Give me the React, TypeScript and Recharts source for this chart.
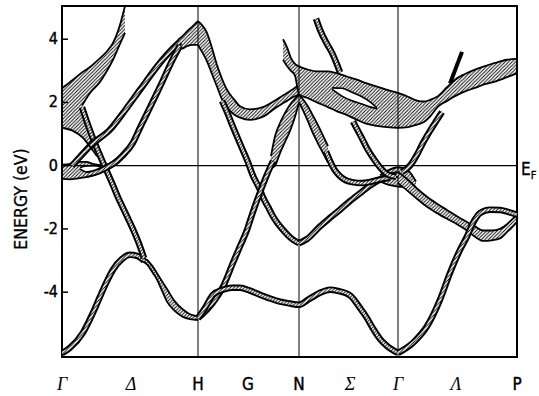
import React from 'react';
import { ComposedChart, Area, Line, XAxis, YAxis, ReferenceLine, ReferenceArea } from 'recharts';

// k-path positions (px-like units, Γ=0 ... P=455) and labels
const XTICKS = [0, 69, 136, 186, 237, 288, 336, 394, 455];
const XLABELS = ['Γ', 'Δ', 'H', 'G', 'N', 'Σ', 'Γ', 'Λ', 'P'];
const YTICKS = [-4, -2, 0, 2, 4];

// hatched ribbons: [k, lower eV, upper eV]
const BAND_A = [[20, 1.9, 2.95], [28, 2.3, 3.12], [38, 2.65, 3.4], [45, 3.0, 3.62], [51, 3.35, 3.88], [57, 3.78, 4.35], [63, 4.2, 5.05]];
const BAND_W1 = [[80, -3.02, -2.92], [85, -3.12, -2.98], [91, -3.4, -3.2], [95, -3.6, -3.4], [100, -3.95, -3.65], [105, -4.3, -3.9], [113, -4.6, -4.3], [121, -4.78, -4.55], [128, -4.85, -4.7], [136, -4.88, -4.76]];
const BAND_W2 = [[116, 3.72, 3.98], [120, 3.7, 4.08], [125, 3.78, 4.25], [131, 3.82, 4.42], [136, 3.82, 4.57]];
const BLOB_G0 = [[0, -0.42, 0.03], [8, -0.43, 0.06], [16, -0.4, 0.12], [24, -0.36, 0.12], [32, -0.3, 0.05], [40, -0.2, 0.02], [46, -0.08, 0.04]];
const BAND_HN = [[136, 3.82, 4.57], [140, 3.6, 4.45], [145, 3.3, 4.2], [150, 2.9, 3.72], [155, 2.5, 3.18], [160, 2.1, 2.75], [165, 1.85, 2.4], [172, 1.62, 2.1], [178, 1.52, 1.88], [188, 1.45, 1.78], [201, 1.55, 1.85], [215, 1.86, 2.1], [225, 2.05, 2.3], [231, 2.17, 2.42], [237, 2.25, 2.56]];
const LAMBDA_L = [[209, -0.08, 0.3], [213, 0.0, 0.93], [218, 0.4, 1.35], [223, 0.75, 1.67], [228, 1.1, 1.93], [233, 1.55, 2.12], [237, 2.0, 2.25]];
const LAMBDA_R = [[237, 2.0, 2.25], [241, 1.75, 2.1], [246, 1.4, 1.87], [251, 1.02, 1.58], [256, 0.7, 1.28], [261, 0.4, 0.95], [266, 0.1, 0.62]];
const BAND_UP = [[221, 3.35, 4.0], [225, 3.15, 3.75], [229, 3.0, 3.4], [233, 2.85, 3.22], [237, 2.25, 3.14], [245, 2.15, 3.05], [255, 2.0, 2.98], [265, 1.87, 2.98], [275, 1.72, 2.92], [285, 1.6, 2.82], [295, 1.45, 2.72], [305, 1.32, 2.6], [315, 1.26, 2.5], [325, 1.22, 2.4], [336, 1.2, 2.3], [346, 1.22, 2.18], [355, 1.3, 2.06], [362, 1.38, 2.03], [368, 1.55, 2.08], [376, 1.87, 2.2], [385, 2.05, 2.48], [393, 2.2, 2.72], [403, 2.35, 2.9], [413, 2.46, 3.04], [423, 2.58, 3.15], [433, 2.66, 3.25], [445, 2.8, 3.35], [455, 2.92, 3.38]];
const BLOB_G1 = [[318, -0.5, -0.3], [326, -0.6, -0.15], [336, -0.66, -0.05], [346, -0.68, -0.15], [354, -0.85, -0.5]];
const BAND_GP = [[336, -0.55, -0.2], [345, -0.78, -0.42], [355, -1.05, -0.72], [365, -1.3, -0.98], [375, -1.5, -1.2], [385, -1.68, -1.4], [395, -1.85, -1.6], [405, -2.05, -1.78], [413, -2.25, -1.92], [421, -2.38, -2.05], [430, -2.36, -2.05], [438, -2.3, -2.0], [445, -2.1, -1.85], [450, -1.95, -1.7], [455, -1.78, -1.55]];

// hatched fill without outline, and white holes
const FILL_G = [[0, 1.2, 2.45], [11, 1.1, 2.72], [20, 0.88, 2.95]];
const FILL_T = [[20, 0.88, 1.9], [27, 0.62, 1.3], [33, 0.42, 0.75]];
const HOLE_LEAF = [[270, 2.42, 2.46], [280, 2.2, 2.45], [290, 2.05, 2.32], [300, 1.95, 2.18], [308, 1.86, 2.02], [315, 1.8, 1.83]];
const HOLE_EF = [[18, -0.1, -0.06], [24, -0.2, -0.01], [32, -0.22, 0.0], [38, -0.16, -0.03], [41, -0.1, -0.07]];

// thin bands: [k, eV]
const L_LOW = [[0, -5.93], [8, -5.76], [21, -5.28], [31, -4.65], [38, -4.14], [45, -3.65], [51, -3.29], [60, -2.95], [68, -2.82], [75, -2.85], [82, -3.0]];
const L_STEEP = [[20, 1.85], [27, 1.2], [33, 0.7], [41, 0.1], [51, -0.62], [56, -1.0], [65, -1.6], [78, -2.55], [82, -2.92]];
const L_OUTER = [[10, 0.0], [18, 0.28], [30, 0.68], [48, 1.14], [63, 1.75], [78, 2.4], [98, 3.25], [110, 3.68], [118, 3.92]];
const L_INNER = [[25, -0.28], [35, -0.2], [42, -0.1], [48, 0.0], [55, 0.15], [60, 0.3], [71, 0.73], [78, 1.2], [85, 1.65], [98, 2.5], [111, 3.38], [118, 3.8]];
const L_HN_B = [[160, 2.05], [165, 1.7], [170, 1.3], [175, 0.92], [180, 0.55], [185, 0.19], [191, -0.32], [198, -0.76], [201, -1.0], [206, -1.3], [211, -1.6], [221, -2.03], [231, -2.34], [237, -2.45]];
const L_HN_C = [[136, -4.82], [145, -4.55], [151, -4.33], [161, -3.83], [171, -3.07], [178, -2.55], [185, -2.03], [190, -1.55], [195, -1.1], [200, -0.68], [205, -0.28], [211, 0.15]];
const L_BOTTOM = [[136, -4.82], [143, -4.5], [151, -4.08], [161, -3.92], [170, -3.86], [178, -3.86], [188, -3.95], [198, -4.08], [208, -4.2], [218, -4.3], [228, -4.36], [237, -4.4], [247, -4.22], [258, -4.02], [268, -3.92], [276, -3.96], [288, -4.1], [298, -4.5], [305, -4.82], [311, -5.15], [318, -5.48], [325, -5.7], [336, -5.92]];
const L_NG_A = [[237, -2.45], [245, -2.32], [258, -1.92], [268, -1.65], [278, -1.39], [288, -1.12], [298, -0.87], [308, -0.63], [318, -0.44], [328, -0.32], [336, -0.28]];
const L_NG_B = [[264, 0.45], [268, 0.15], [272, -0.1], [277, -0.3], [283, -0.45], [290, -0.52], [300, -0.55], [310, -0.5], [320, -0.42], [328, -0.38]];
const L_ARM_L = [[291, 1.4], [296, 1.1], [301, 0.8], [305, 0.55], [311, 0.25], [318, -0.05], [326, -0.28], [334, -0.35]];
const L_ARM_R = [[340, -0.2], [348, 0.0], [355, 0.35], [361, 0.72], [368, 1.1], [375, 1.45], [380, 1.7]];
const L_TOP_N = [[254, 4.65], [258, 4.3], [265, 3.85], [270, 3.57], [275, 3.2], [278, 2.95]];
const L_GP_LOW = [[336, -5.92], [351, -5.6], [365, -5.08], [378, -4.24], [388, -3.39], [398, -2.66], [405, -2.24], [411, -1.81], [418, -1.5], [428, -1.39], [438, -1.4], [445, -1.45], [455, -1.55]];

// single outlines
const EDGE_ARC = [[0, 1.2], [11, 1.1], [21, 0.88], [29, 0.56], [35, 0.3]];
const EDGE_TOP = [[0, 2.45], [11, 2.72], [20, 2.95]];
const STUB = [[388, 2.6], [400, 3.6]];

const WIDE = [BAND_A, BAND_W1, BAND_W2, BLOB_G0, BAND_HN, LAMBDA_L, LAMBDA_R, BAND_UP, BLOB_G1, BAND_GP];
const FILLS = [FILL_G, FILL_T];
const HOLES = [HOLE_LEAF, HOLE_EF];
const THIN = [L_LOW, L_STEEP, L_OUTER, L_INNER, L_HN_B, L_HN_C, L_BOTTOM, L_NG_A, L_NG_B, L_ARM_L, L_ARM_R, L_TOP_N, L_GP_LOW];
const EDGES = [EDGE_ARC, EDGE_TOP];

const SANS = "'Liberation Sans Narrow', 'DejaVu Sans Condensed', 'Liberation Sans', sans-serif";
const SERIF = "'Liberation Serif', 'DejaVu Serif', serif";
const HATCH = 'url(#hatch)';

const ribbon = (d: number[][]) => d.map(([u, lo, hi]) => ({ u, r: [lo, hi] }));
const path = (d: number[][]) => d.map(([u, e]) => ({ u, e }));

const XTick = (props: any) => {
  const i = XTICKS.indexOf(props.payload.value);
  const lab = XLABELS[i];
  const greek = /[\u0370-\u03FF]/.test(lab);
  return (
    <text x={props.x} y={390} textAnchor="middle" fontFamily={greek ? SERIF : SANS}
      fontStyle={greek ? 'italic' : 'normal'} fontSize={greek ? 18 : 17} fill="#000"
      stroke={greek ? 'none' : '#000'} strokeWidth={0.4}>
      {lab}
    </text>
  );
};

const YTick = (props: any) => (
  <g>
    <text x={58} y={props.y + 5} textAnchor="end" fontFamily={SANS} fontSize={16} fill="#000"
      stroke="#000" strokeWidth={0.4}>
      {props.payload.value}
    </text>
    <line x1={62} x2={68} y1={props.y} y2={props.y} stroke="#000" strokeWidth={1.5} />
  </g>
);

const YLabel = () => (
  <text x={27} y={199} transform="rotate(-90 27 199)" textAnchor="middle" fontFamily={SANS}
    fontSize={17.5} fill="#000" stroke="#000" strokeWidth={0.3}>
    ENERGY (eV)
  </text>
);

const EfLabel = () => (
  <text x={521} y={175} fontFamily={SANS} fontSize={17} fill="#000" stroke="#000" strokeWidth={0.3}>
    E<tspan dy={4} fontSize={11}>F</tspan>
  </text>
);

export default function App() {
  return (
    <div style={{ position: 'absolute', left: 0, top: 0, background: '#fff' }}>
      <ComposedChart width={539} height={396} margin={{ top: 6, right: 22, bottom: 0, left: 0 }}>
        <defs>
          <pattern id="hatch" patternUnits="userSpaceOnUse" width="3.5" height="3.5">
            <rect width="3.5" height="3.5" fill="#fff" />
            <path d="M-1,1 l2,-2 M0,3.5 l3.5,-3.5 M2.5,4.5 l2,-2" stroke="#000" strokeWidth="0.9" />
          </pattern>
        </defs>
        <XAxis type="number" dataKey="u" domain={[0, 455]} ticks={XTICKS} tick={<XTick />}
          axisLine={false} tickLine={false} height={39} allowDataOverflow />
        <YAxis type="number" domain={[-6.05, 5.05]} ticks={YTICKS} tick={<YTick />}
          axisLine={false} tickLine={false} width={62} allowDataOverflow label={<YLabel />} />
        <ReferenceLine x={136} stroke="#000" strokeWidth={1} />
        <ReferenceLine x={237} stroke="#000" strokeWidth={1} />
        <ReferenceLine x={336} stroke="#000" strokeWidth={1} />
        <ReferenceLine y={0} stroke="#000" strokeWidth={1.2} label={<EfLabel />} />
        {FILLS.map((d, i) => (
          <Area key={'f' + i} data={ribbon(d)} dataKey="r" type="linear" stroke="none"
            fill={HATCH} fillOpacity={1} isAnimationActive={false} dot={false} activeDot={false} />
        ))}
        {WIDE.map((d, i) => (
          <Area key={'w' + i} data={ribbon(d)} dataKey="r" type="monotone" stroke="#000" strokeWidth={1.8}
            fill={HATCH} fillOpacity={1} isAnimationActive={false} dot={false} activeDot={false} />
        ))}
        {HOLES.map((d, i) => (
          <Area key={'h' + i} data={ribbon(d)} dataKey="r" type="monotone" stroke="#000" strokeWidth={1.6}
            fill="#fff" fillOpacity={1} isAnimationActive={false} dot={false} activeDot={false} />
        ))}
        {THIN.map((d, i) => [
          <Line key={'tb' + i} data={path(d)} dataKey="e" type="monotone" stroke="#000" strokeWidth={6.5}
            dot={false} activeDot={false} isAnimationActive={false} />,
          <Line key={'ti' + i} data={path(d)} dataKey="e" type="monotone" stroke={HATCH} strokeWidth={2.6}
            dot={false} activeDot={false} isAnimationActive={false} />,
        ])}
        {EDGES.map((d, i) => (
          <Line key={'e' + i} data={path(d)} dataKey="e" type="monotone" stroke="#000" strokeWidth={1.8}
            dot={false} activeDot={false} isAnimationActive={false} />
        ))}
        <Line data={path(STUB)} dataKey="e" type="linear" stroke="#000" strokeWidth={4}
          dot={false} activeDot={false} isAnimationActive={false} />
        <ReferenceArea x1={0} x2={455} y1={-6.05} y2={5.05} fill="none" stroke="#000" strokeWidth={2} ifOverflow="visible" />
      </ComposedChart>
    </div>
  );
}
